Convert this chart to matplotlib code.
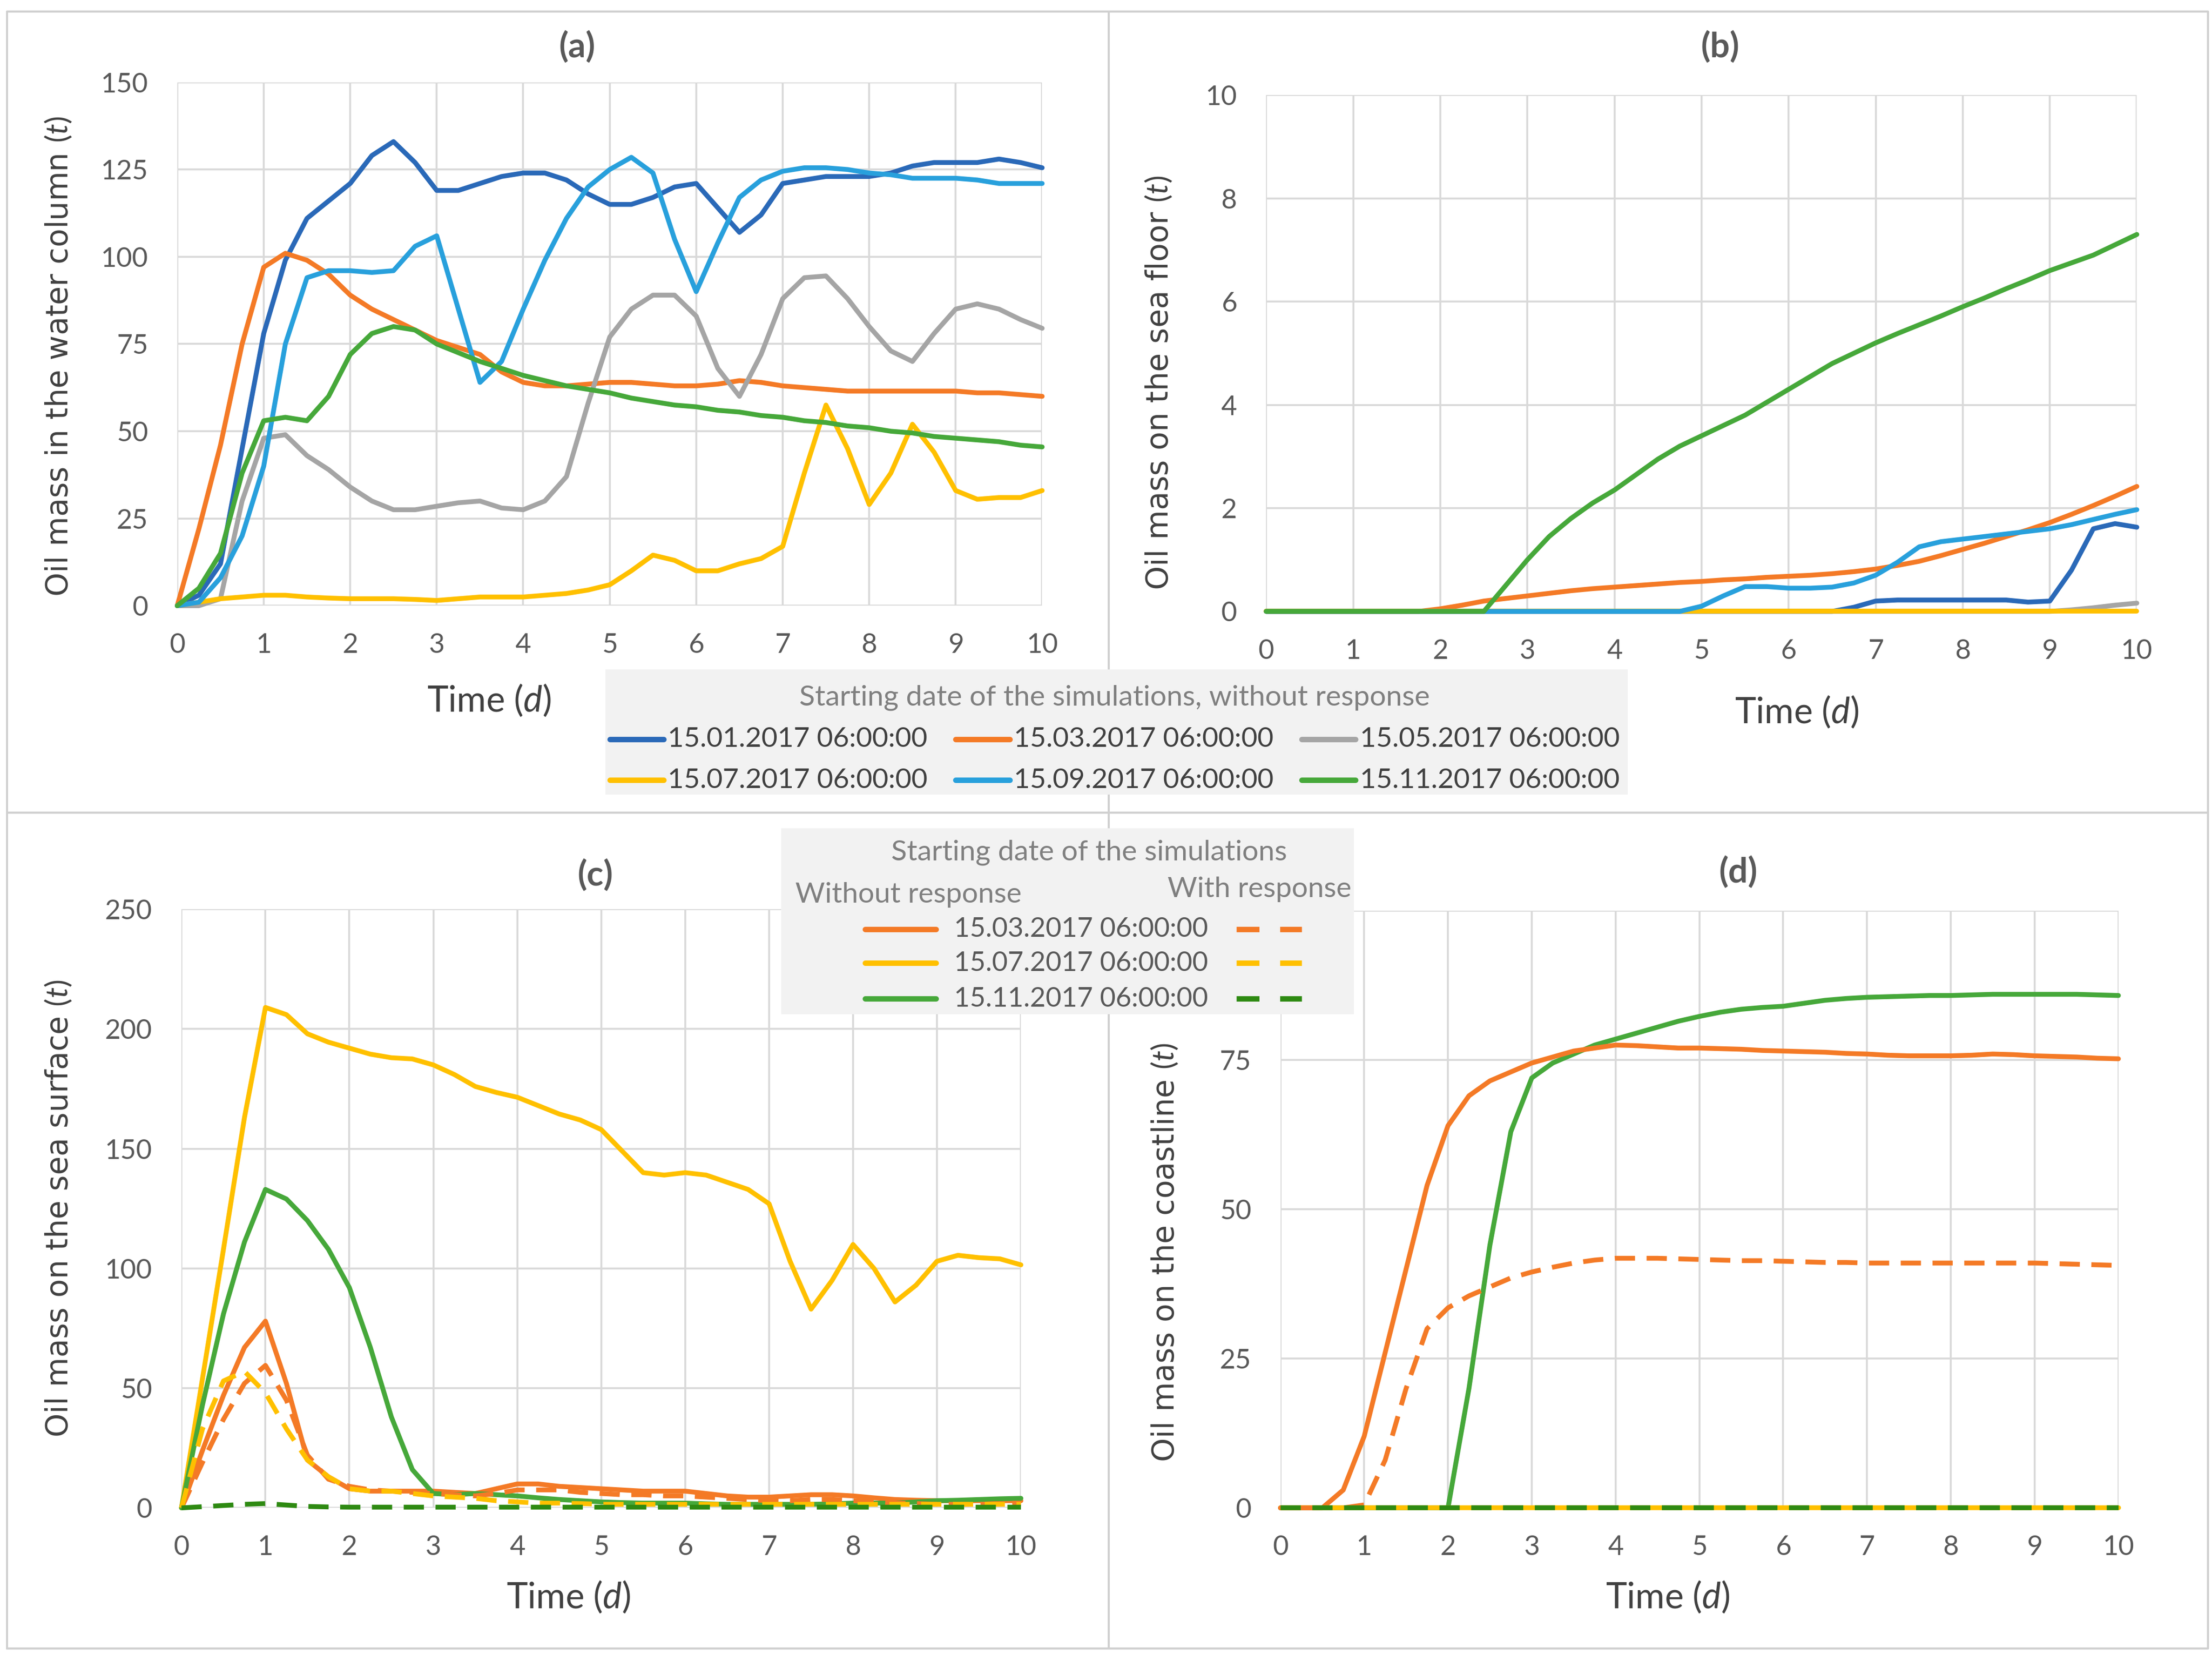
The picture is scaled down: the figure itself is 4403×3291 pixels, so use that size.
import numpy as np
import matplotlib
matplotlib.use("Agg")
import matplotlib.pyplot as plt
from matplotlib.lines import Line2D
from matplotlib.patches import Rectangle

plt.rcParams['font.family'] = ['Lato', 'DejaVu Sans']
plt.rcParams['mathtext.fontset'] = 'custom'
plt.rcParams['mathtext.rm'] = 'Lato'
plt.rcParams['mathtext.it'] = 'Lato:italic'
plt.rcParams['lines.solid_joinstyle'] = 'round'
plt.rcParams['lines.solid_capstyle'] = 'round'

# time axis (days), one value every 6 hours
t = np.arange(41) * 0.25

labels = ["15.01.2017 06:00:00", "15.03.2017 06:00:00", "15.05.2017 06:00:00",
          "15.07.2017 06:00:00", "15.09.2017 06:00:00", "15.11.2017 06:00:00"]
colors = ["#2A69B8", "#F47A26", "#A5A5A5", "#FFC000", "#28A0DC", "#46A83A"]
dash_green = "#2E8A12"

# (a) oil mass in the water column, t
water_jan = [0, 3, 12, 45, 78, 99, 111, 116, 121, 129, 133, 127, 119, 119, 121, 123, 124, 124, 122, 118, 115,
             115, 117, 120, 121, 114, 107, 112, 121, 122, 123, 123, 123, 124, 126, 127, 127, 127, 128, 127, 125.5]
water_mar = [0, 22, 46, 75, 97, 101, 99, 95, 89, 85, 82, 79, 76, 74, 72, 67, 64, 63, 63, 63.5, 64,
             64, 63.5, 63, 63, 63.5, 64.5, 64, 63, 62.5, 62, 61.5, 61.5, 61.5, 61.5, 61.5, 61.5, 61, 61, 60.5, 60]
water_may = [0, 0, 2, 30, 48, 49, 43, 39, 34, 30, 27.5, 27.5, 28.5, 29.5, 30, 28, 27.5, 30, 37, 58, 77,
             85, 89, 89, 83, 68, 60, 72, 88, 94, 94.5, 88, 80, 73, 70, 78, 85, 86.5, 85, 82, 79.5]
water_jul = [0, 1, 2, 2.5, 3, 3, 2.5, 2.2, 2, 2, 2, 1.8, 1.5, 2, 2.5, 2.5, 2.5, 3, 3.5, 4.5, 6,
             10, 14.5, 13, 10, 10, 12, 13.5, 17, 38, 57.5, 45, 29, 38, 52, 44, 33, 30.5, 31, 31, 33]
water_sep = [0, 1, 8, 20, 40, 75, 94, 96, 96, 95.5, 96, 103, 106, 85, 64, 70, 85, 99, 111, 120, 125,
             128.5, 124, 105, 90, 104, 117, 122, 124.5, 125.5, 125.5, 125, 124, 123.5, 122.5, 122.5, 122.5, 122, 121, 121, 121]
water_nov = [0, 5, 15, 38, 53, 54, 53, 60, 72, 78, 80, 79, 75, 72.5, 70, 68, 66, 64.5, 63, 62, 61,
             59.5, 58.5, 57.5, 57, 56, 55.5, 54.5, 54, 53, 52.5, 51.5, 51, 50, 49.5, 48.5, 48, 47.5, 47, 46, 45.5]

# (b) oil mass on the sea floor, t
floor_jan = [0] * 27 + [0.08, 0.2, 0.22, 0.22, 0.22, 0.22, 0.22, 0.22, 0.18, 0.2, 0.8, 1.6, 1.7, 1.63]
floor_mar = [0] * 8 + [0.05, 0.12, 0.2, 0.25, 0.3, 0.35, 0.4, 0.44, 0.47, 0.5, 0.53, 0.56, 0.58, 0.61, 0.63,
                       0.66, 0.68, 0.7, 0.73, 0.77, 0.82, 0.89, 0.97, 1.08, 1.2, 1.32, 1.45, 1.58, 1.72, 1.88,
                       2.05, 2.23, 2.42]
floor_may = [0] * 37 + [0.03, 0.07, 0.12, 0.16]
floor_jul = [0] * 41
floor_sep = [0] * 20 + [0.1, 0.3, 0.48, 0.48, 0.45, 0.45, 0.47, 0.55, 0.7, 0.95, 1.25, 1.35, 1.4, 1.45, 1.5,
                        1.55, 1.6, 1.68, 1.78, 1.88, 1.97]
floor_nov = [0] * 11 + [0.5, 1.0, 1.45, 1.8, 2.1, 2.35, 2.65, 2.95, 3.2, 3.4, 3.6, 3.8, 4.05, 4.3, 4.55, 4.8,
                        5.0, 5.2, 5.38, 5.55, 5.72, 5.9, 6.07, 6.25, 6.42, 6.6, 6.75, 6.9, 7.1, 7.3]

# (c) oil mass on the sea surface, t (solid: without response, dashed: with response)
surf_mar = [0, 24, 47, 67, 78, 52, 20, 13, 8, 7, 7, 7, 7, 6.5, 6, 8, 10, 10, 9, 8.5, 8,
            7.5, 7, 7, 7, 6, 5, 4.5, 4.5, 5, 5.5, 5.5, 5, 4.2, 3.5, 3.2, 3, 3, 3, 3, 3]
surf_jul = [0, 54, 108, 163, 209, 206, 198, 194.5, 192, 189.5, 188, 187.5, 185, 181, 176, 173.5, 171.5, 168, 164.5, 162, 158,
            149, 140, 139, 140, 139, 136, 133, 127, 103, 83, 95, 110, 100, 86, 93, 103, 105.5, 104.5, 104, 101.5]
surf_nov = [0, 43, 81, 111, 133, 129, 120, 108, 92, 67, 38, 16, 6, 5.5, 6, 5.5, 5, 4.2, 3.5, 3, 2.5,
            2.2, 2, 2, 2, 1.7, 1.5, 1.5, 1.5, 1.5, 1.5, 1.7, 2, 2, 2, 2.5, 3, 3.2, 3.5, 3.8, 4]
surf_mar_r = [0, 19, 37, 52, 59.5, 45, 22, 12, 9, 7.5, 7, 6.5, 6, 5.5, 5, 6, 7.5, 7.5, 7.5, 6.5, 6,
              5.5, 5.5, 5, 5, 4.5, 4, 3.5, 3, 3, 3.5, 3.5, 3, 2.5, 2, 1.8, 1.5, 1.5, 1.5, 1.8, 2]
surf_jul_r = [0, 33, 53, 57, 48, 33, 20, 13, 8, 7, 7, 6, 5, 4.5, 4, 3, 2.5, 2, 2, 1.8, 1.5] + [1.5] * 20
surf_nov_r = [0, 0.5, 1, 1.5, 1.8, 1.2, 0.6, 0.4, 0.3] + [0.3] * 32

# (d) oil mass on the coastline, t
coast_mar = [0, 0, 0, 3, 12, 26, 40, 54, 64, 69, 71.5, 73, 74.5, 75.5, 76.5, 77, 77.5, 77.4, 77.2, 77, 77,
             76.9, 76.8, 76.6, 76.5, 76.4, 76.3, 76.1, 76, 75.8, 75.7, 75.7, 75.7, 75.8, 76, 75.9, 75.7, 75.6, 75.5, 75.3, 75.2]
coast_jul = [0] * 41
coast_nov = [0] * 9 + [20, 44, 63, 72, 74.5, 76, 77.5, 78.5, 79.5, 80.5, 81.5, 82.3, 83, 83.5, 83.8, 84, 84.5,
                       85, 85.3, 85.5, 85.6, 85.7, 85.8, 85.8, 85.9, 86, 86, 86, 86, 86, 85.9, 85.8]
coast_mar_r = [0] * 4 + [0.5, 8, 20, 30, 33.5, 35.5, 37, 38.5, 39.5, 40.3, 41, 41.5, 41.8, 41.8, 41.8, 41.7, 41.6,
                         41.5, 41.4, 41.4, 41.3, 41.2, 41.1, 41.1, 41, 41, 41, 41, 41, 41, 41, 41, 41, 40.9, 40.8, 40.7, 40.6]
coast_jul_r = [0] * 41
coast_nov_r = [0] * 41

W, H = 4403, 3291
fig = plt.figure(figsize=(W / 300, H / 300), dpi=300)
fig.patch.set_facecolor("white")

LW = 2.3
DASH = (4.2, 2.4)
tick_col = "#595959"


def fpos(x, y):
    # position given in the 1560 x 1166 preview grid -> figure fraction
    return x / 1560, 1 - y / 1166


def make_ax(l, r, top, bot, ymax, ystep):
    x0, y0 = fpos(l, bot)
    x1, y1 = fpos(r, top)
    ax = fig.add_axes([x0, y0, x1 - x0, y1 - y0])
    ax.set_xlim(0, 10)
    ax.set_ylim(0, ymax)
    ax.set_xticks(range(11))
    ax.set_yticks(np.arange(0, ymax + 0.1, ystep))
    ax.grid(True, color="#D9D9D9", lw=0.9)
    ax.set_axisbelow(True)
    for s in ax.spines.values():
        s.set_visible(False)
    ax.tick_params(length=0, labelsize=13, labelcolor=tick_col)
    ax.tick_params(axis="x", pad=13)
    ax.tick_params(axis="y", pad=14)
    return ax


def side_text(x, y, s, rot=0, **kw):
    fx, fy = fpos(x, y)
    fig.text(fx, fy, s, rotation=rot, ha="center", va="center", **kw)


# panel (a)
ax_a = make_ax(125, 735, 58, 427, 150, 25)
for ys, c in zip([water_jan, water_mar, water_may, water_jul, water_sep, water_nov], colors):
    ax_a.plot(t, ys, color=c, lw=LW, clip_on=False)

# panel (b)
ax_b = make_ax(893, 1507, 67, 431, 10, 2)
for ys, c in zip([floor_jan, floor_mar, floor_may, floor_jul, floor_sep, floor_nov], colors):
    ax_b.plot(t, ys, color=c, lw=LW, clip_on=False)

# panel (c)
ax_c = make_ax(128, 720, 641, 1063, 250, 50)
ax_c.plot(t, surf_mar, color=colors[1], lw=LW, clip_on=False)
ax_c.plot(t, surf_jul, color=colors[3], lw=LW, clip_on=False)
ax_c.plot(t, surf_nov, color=colors[5], lw=LW, clip_on=False)
ax_c.plot(t, surf_mar_r, color=colors[1], lw=LW, dashes=DASH, clip_on=False)
ax_c.plot(t, surf_jul_r, color=colors[3], lw=LW, dashes=DASH, clip_on=False)
ax_c.plot(t, surf_nov_r, color=dash_green, lw=LW, dashes=DASH, clip_on=False)

# panel (d)
ax_d = make_ax(903, 1494, 642, 1063, 100, 25)
ax_d.plot(t, coast_nov, color=colors[5], lw=LW, clip_on=False)
ax_d.plot(t, coast_jul, color=colors[3], lw=LW, clip_on=False)
ax_d.plot(t, coast_mar, color=colors[1], lw=LW, clip_on=False)
ax_d.plot(t, coast_mar_r, color=colors[1], lw=LW, dashes=DASH, clip_on=False)
ax_d.plot(t, coast_jul_r, color=colors[3], lw=LW, dashes=DASH, clip_on=False)
ax_d.plot(t, coast_nov_r, color=dash_green, lw=LW, dashes=DASH, clip_on=False)

# titles
for x, y, s in [(407, 33, "(a)"), (1213, 33, "(b)"), (420, 617, "(c)"), (1226, 615, "(d)")]:
    side_text(x, y, s, fontsize=16.5, fontweight="bold", color=tick_col)

# x labels
for x, y in [(345, 494), (1267, 502), (401, 1126), (1176, 1126)]:
    side_text(x, y, r"Time $\mathit{(d)}$", fontsize=17, color="#404040")

# y labels
ylab_kw = dict(fontsize=14.5, color="#404040", family="DejaVu Sans")
side_text(42, 251, r"Oil mass in the water column $\mathit{(t)}$", rot=90, **ylab_kw)
side_text(818, 270, r"Oil mass on the sea floor $\mathit{(t)}$", rot=90, **ylab_kw)
side_text(42, 852, r"Oil mass on the sea surface $\mathit{(t)}$", rot=90, **ylab_kw)
side_text(822, 883, r"Oil mass on the coastline $\mathit{(t)}$", rot=90, **ylab_kw)

# frame and dividers
frame_kw = dict(color="#D0D0D0", lw=1.0, transform=fig.transFigure, zorder=1)
bx0, by0 = fpos(5, 1162)
bx1, by1 = fpos(1557, 8)
fig.add_artist(Line2D([bx0, bx1, bx1, bx0, bx0], [by0, by0, by1, by1, by0], **frame_kw))
mx, _ = fpos(782, 0)
_, my = fpos(0, 573)
fig.add_artist(Line2D([mx, mx], [by0, by1], **frame_kw))
fig.add_artist(Line2D([bx0, bx1], [my, my], **frame_kw))

# legend for (a) and (b)
lx0, ly0 = fpos(427, 560)
lx1, ly1 = fpos(1148, 472)
fig.add_artist(Rectangle((lx0, ly0), lx1 - lx0, ly1 - ly0, transform=fig.transFigure,
                         facecolor="#F2F2F2", edgecolor="none", zorder=5))
side_text(786, 492, "Starting date of the simulations, without response", fontsize=13.8,
          color="#7F7F7F", zorder=6)
col_x = [430, 674, 918]
row_y = [521, 550]
for i, (lab, c) in enumerate(zip(labels, colors)):
    cx = col_x[i % 3]
    ry = row_y[i // 3]
    hx0, hy = fpos(cx, ry)
    hx1, _ = fpos(cx + 38, ry)
    fig.add_artist(Line2D([hx0, hx1], [hy, hy], color=c, lw=2.6, transform=fig.transFigure, zorder=6))
    tx, _ = fpos(cx + 41, ry)
    fig.text(tx, hy, lab, ha="left", va="center", fontsize=13.3, color="#404040", zorder=6)

# legend for (c) and (d)
lx0, ly0 = fpos(551, 715)
lx1, ly1 = fpos(955, 584)
fig.add_artist(Rectangle((lx0, ly0), lx1 - lx0, ly1 - ly0, transform=fig.transFigure,
                         facecolor="#F2F2F2", edgecolor="none", zorder=5))
side_text(768, 601, "Starting date of the simulations", fontsize=13.8, color="#7F7F7F", zorder=6)
fx, fy = fpos(561, 631)
fig.text(fx, fy, "Without response", ha="left", va="center", fontsize=13.7, color="#7F7F7F", zorder=6)
fx, fy = fpos(953, 627)
fig.text(fx, fy, "With response", ha="right", va="center", fontsize=13.7, color="#7F7F7F", zorder=6)
for ry, lab, c, cd in [(655, labels[1], colors[1], colors[1]),
                       (679, labels[3], colors[3], colors[3]),
                       (704, labels[5], colors[5], dash_green)]:
    hx0, hy = fpos(610, ry)
    hx1, _ = fpos(660, ry)
    fig.add_artist(Line2D([hx0, hx1], [hy, hy], color=c, lw=2.6, transform=fig.transFigure, zorder=6))
    tx, _ = fpos(673, ry)
    fig.text(tx, hy, lab, ha="left", va="center", fontsize=13, color="#595959", zorder=6)
    dx0, _ = fpos(872, ry)
    dx1, _ = fpos(918, ry)
    fig.add_artist(Line2D([dx0, dx1], [hy, hy], color=cd, lw=2.6, dashes=(4.2, 3.8),
                          solid_capstyle="butt", transform=fig.transFigure, zorder=6))

fig.savefig("out.png", dpi=300)
